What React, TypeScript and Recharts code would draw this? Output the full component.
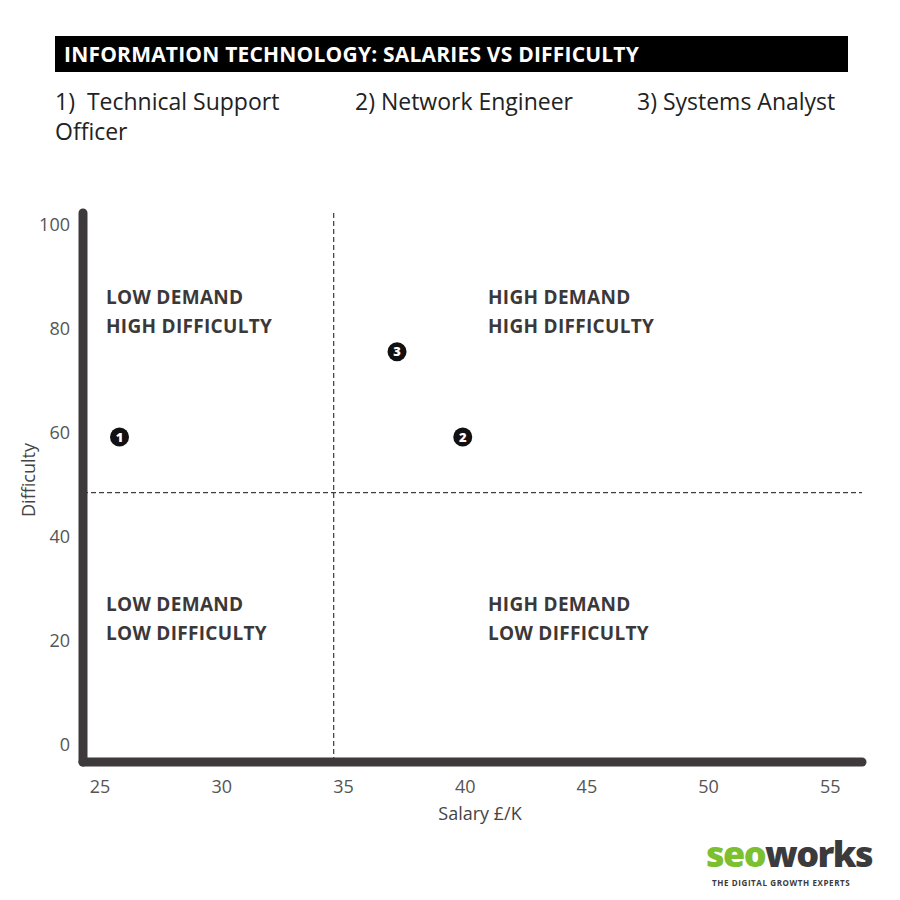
import { ScatterChart, Scatter, XAxis, YAxis, ReferenceLine } from "recharts";

const jobs = ["Technical Support Officer", "Network Engineer", "Systems Analyst"];
const salaryK = [25.8, 39.9, 37.2];
const difficulty = [59.2, 59.2, 75.6];
const xTicks = [25, 30, 35, 40, 45, 50, 55];
const yTicks = [0, 20, 40, 60, 80, 100];
const salarySplit = 34.6;
const difficultySplit = 48.5;

const points = jobs.map((job, i) => ({ n: i + 1, job, salary: salaryK[i], difficulty: difficulty[i] }));

const FONT = "'Open Sans', sans-serif";
const AXIS = "#3e3a3b";

function NumberMarker(props: any) {
  const { cx, cy, payload } = props;
  return (
    <g>
      <circle cx={cx} cy={cy} r={9.5} fill="#111" />
      <text x={cx} y={cy + 4.5} textAnchor="middle" fill="#fff" fontSize={13} fontWeight={800} fontFamily={FONT}>
        {payload.n}
      </text>
    </g>
  );
}

const quadText: React.CSSProperties = {
  position: "absolute",
  fontFamily: FONT,
  fontWeight: 700,
  fontSize: 19,
  letterSpacing: 0.3,
  lineHeight: "29px",
  color: "#3b3839",
  whiteSpace: "nowrap",
};

const legendText: React.CSSProperties = {
  position: "absolute",
  top: 86,
  fontSize: 23,
  lineHeight: "30px",
  color: "#222",
  whiteSpace: "nowrap",
};

export default function App() {
  return (
    <div style={{ position: "absolute", top: 0, left: 0, width: 900, height: 900, background: "#fff", fontFamily: FONT }}>
      <div style={{ position: "absolute", left: 55, top: 36, width: 793, height: 36, background: "#000" }}>
        <div style={{ position: "absolute", left: 9, top: 3, color: "#fff", fontWeight: 700, fontSize: 21, lineHeight: "30px", letterSpacing: 0.2, whiteSpace: "nowrap" }}>
          INFORMATION TECHNOLOGY: SALARIES VS DIFFICULTY
        </div>
      </div>
      <div style={{ ...legendText, left: 55 }}>
        1)&nbsp;&nbsp;Technical Support
        <br />
        Officer
      </div>
      <div style={{ ...legendText, left: 355 }}>2) Network Engineer</div>
      <div style={{ ...legendText, left: 637 }}>3) Systems Analyst</div>

      <div style={{ position: "absolute", top: 0, left: 0 }}>
        <ScatterChart width={900} height={900} margin={{ top: 213, right: 38, bottom: 98, left: 0 }}>
          <XAxis
            type="number"
            dataKey="salary"
            domain={[24.3, 56.3]}
            ticks={xTicks}
            height={40}
            axisLine={{ stroke: AXIS, strokeWidth: 9, strokeLinecap: "round" }}
            tickLine={false}
            tickSize={6}
            tickMargin={12}
            tick={{ fill: "#555", fontSize: 18, fontFamily: FONT }}
            allowDataOverflow
          />
          <YAxis
            type="number"
            dataKey="difficulty"
            domain={[-3.3, 102.3]}
            ticks={yTicks}
            width={83}
            axisLine={{ stroke: AXIS, strokeWidth: 9, strokeLinecap: "round" }}
            tickLine={false}
            tickSize={6}
            tickMargin={7}
            tick={{ fill: "#555", fontSize: 18, fontFamily: FONT }}
            allowDataOverflow
          />
          <ReferenceLine x={salarySplit} stroke="#111" strokeDasharray="5 3" strokeWidth={1} />
          <ReferenceLine y={difficultySplit} stroke="#111" strokeDasharray="5 3" strokeWidth={1} />
          <Scatter data={points} shape={NumberMarker} isAnimationActive={false} />
        </ScatterChart>
      </div>

      <div style={{ ...quadText, left: 106, top: 283 }}>LOW DEMAND<br />HIGH DIFFICULTY</div>
      <div style={{ ...quadText, left: 488, top: 283 }}>HIGH DEMAND<br />HIGH DIFFICULTY</div>
      <div style={{ ...quadText, left: 106, top: 590 }}>LOW DEMAND<br />LOW DIFFICULTY</div>
      <div style={{ ...quadText, left: 488, top: 590 }}>HIGH DEMAND<br />LOW DIFFICULTY</div>

      <div style={{ position: "absolute", left: 28, top: 480, transform: "translate(-50%, -50%) rotate(-90deg)", fontSize: 18, color: "#444", whiteSpace: "nowrap" }}>
        Difficulty
      </div>
      <div style={{ position: "absolute", left: 480, top: 813, transform: "translate(-50%, -50%)", fontSize: 18, color: "#444", whiteSpace: "nowrap" }}>
        Salary £/K
      </div>

      <div style={{ position: "absolute", left: 706, top: 836, fontSize: 36, fontWeight: 800, letterSpacing: -1.6, lineHeight: "36px", whiteSpace: "nowrap" }}>
        <span style={{ color: "#7cbf2f" }}>seo</span>
        <span style={{ color: "#3b3a3c" }}>works</span>
      </div>
      <div style={{ position: "absolute", left: 712, top: 878, fontSize: 8, fontWeight: 700, lineHeight: "10px", color: "#3b3a3c", letterSpacing: 0.6, whiteSpace: "nowrap" }}>
        THE DIGITAL GROWTH EXPERTS
      </div>
    </div>
  );
}
